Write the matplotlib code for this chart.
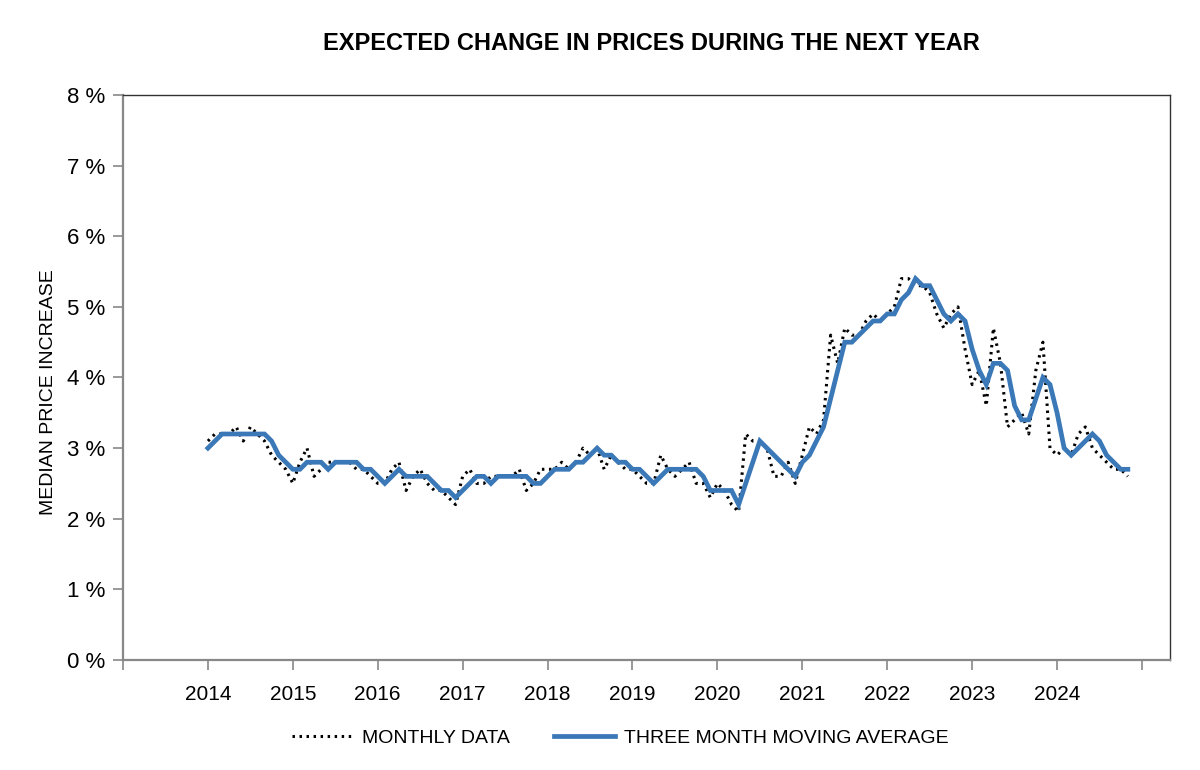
import matplotlib
matplotlib.use("Agg")
import matplotlib.pyplot as plt

plt.rcParams['font.family'] = ['Liberation Sans', 'DejaVu Sans']

# Monthly data, Jan 2014 .. Nov 2024 (percent)
monthly_2014 = [3.1, 3.2, 3.2, 3.2, 3.3, 3.1, 3.3, 3.2, 3.1, 2.9, 2.8, 2.7]
monthly_2015 = [2.5, 2.8, 3.0, 2.6, 2.7, 2.8, 2.8, 2.8, 2.8, 2.7, 2.7, 2.6]
monthly_2016 = [2.5, 2.5, 2.7, 2.8, 2.4, 2.6, 2.7, 2.5, 2.4, 2.4, 2.3, 2.2]
monthly_2017 = [2.6, 2.7, 2.5, 2.5, 2.6, 2.6, 2.6, 2.6, 2.7, 2.4, 2.5, 2.7]
monthly_2018 = [2.7, 2.7, 2.8, 2.7, 2.8, 3.0, 2.9, 3.0, 2.7, 2.9, 2.8, 2.7]
monthly_2019 = [2.7, 2.6, 2.5, 2.5, 2.9, 2.7, 2.6, 2.7, 2.8, 2.5, 2.5, 2.3]
monthly_2020 = [2.5, 2.4, 2.2, 2.1, 3.2, 3.1, 3.1, 3.0, 2.6, 2.6, 2.8, 2.5]
monthly_2021 = [2.9, 3.3, 3.2, 3.4, 4.6, 4.2, 4.7, 4.6, 4.6, 4.8, 4.9, 4.8]
monthly_2022 = [4.9, 5.0, 5.4, 5.4, 5.3, 5.3, 5.2, 4.9, 4.7, 4.9, 5.0, 4.4]
monthly_2023 = [3.9, 4.1, 3.6, 4.7, 4.2, 3.3, 3.4, 3.5, 3.2, 4.1, 4.5, 3.0]
monthly_2024 = [2.9, 3.0, 2.9, 3.2, 3.3, 3.0, 2.9, 2.8, 2.7, 2.7, 2.6]

# Three month moving average as plotted
ma_2014 = [3.0, 3.1, 3.2, 3.2, 3.2, 3.2, 3.2, 3.2, 3.2, 3.1, 2.9, 2.8]
ma_2015 = [2.7, 2.7, 2.8, 2.8, 2.8, 2.7, 2.8, 2.8, 2.8, 2.8, 2.7, 2.7]
ma_2016 = [2.6, 2.5, 2.6, 2.7, 2.6, 2.6, 2.6, 2.6, 2.5, 2.4, 2.4, 2.3]
ma_2017 = [2.4, 2.5, 2.6, 2.6, 2.5, 2.6, 2.6, 2.6, 2.6, 2.6, 2.5, 2.5]
ma_2018 = [2.6, 2.7, 2.7, 2.7, 2.8, 2.8, 2.9, 3.0, 2.9, 2.9, 2.8, 2.8]
ma_2019 = [2.7, 2.7, 2.6, 2.5, 2.6, 2.7, 2.7, 2.7, 2.7, 2.7, 2.6, 2.4]
ma_2020 = [2.4, 2.4, 2.4, 2.2, 2.5, 2.8, 3.1, 3.0, 2.9, 2.8, 2.7, 2.6]
ma_2021 = [2.8, 2.9, 3.1, 3.3, 3.7, 4.1, 4.5, 4.5, 4.6, 4.7, 4.8, 4.8]
ma_2022 = [4.9, 4.9, 5.1, 5.2, 5.4, 5.3, 5.3, 5.1, 4.9, 4.8, 4.9, 4.8]
ma_2023 = [4.4, 4.1, 3.9, 4.2, 4.2, 4.1, 3.6, 3.4, 3.4, 3.7, 4.0, 3.9]
ma_2024 = [3.5, 3.0, 2.9, 3.0, 3.1, 3.2, 3.1, 2.9, 2.8, 2.7, 2.7]

years = list(range(2014, 2025))
start_year = 2014

monthly = (monthly_2014 + monthly_2015 + monthly_2016 + monthly_2017 + monthly_2018 +
           monthly_2019 + monthly_2020 + monthly_2021 + monthly_2022 + monthly_2023 + monthly_2024)
moving_avg = (ma_2014 + ma_2015 + ma_2016 + ma_2017 + ma_2018 + ma_2019 + ma_2020 +
              ma_2021 + ma_2022 + ma_2023 + ma_2024)
dates = [start_year + i / 12 for i in range(len(monthly))]

fig = plt.figure(figsize=(12, 7.7), dpi=100)
ax = fig.add_axes([0.1025, 0.1429, 0.8725, 0.7337])

ax.plot(dates, monthly, color='black', lw=2.2, linestyle=(0, (0.8, 1.5)),
        label='MONTHLY DATA', zorder=2)
ax.plot(dates, moving_avg, color='#3a78b8', lw=3.4, solid_joinstyle='miter',
        label='THREE MONTH MOVING AVERAGE', zorder=3)

ax.set_xlim(2013, 2025.33)
ax.set_ylim(0, 8)

ax.set_yticks(range(0, 9))
ax.set_yticklabels([f'{v} %' for v in range(0, 9)], fontsize=16)
xt = list(range(2013, 2026))
ax.set_xticks(xt)
ax.set_xticklabels(['' if (t < years[0] or t > years[-1]) else str(t) for t in xt], fontsize=15)

ax.tick_params(axis='both', direction='out', length=7, width=1.2, color='#888888')
ax.tick_params(axis='x', pad=11)
ax.tick_params(axis='y', pad=6)

for s in ['left', 'bottom']:
    ax.spines[s].set_color('#888888')
    ax.spines[s].set_linewidth(1.6)
for s in ['top', 'right']:
    ax.spines[s].set_color('#333333')
    ax.spines[s].set_linewidth(1.0)

ax.set_ylabel('MEDIAN PRICE INCREASE', fontsize=14)
ax.yaxis.set_label_coords(-0.063, 0.474)
fig.text(0.5425, 0.943, 'EXPECTED CHANGE IN PRICES DURING THE NEXT YEAR',
         ha='center', va='center', fontsize=17, fontweight='bold')

fig.legend(loc='center', bbox_to_anchor=(0.517, 0.0416), ncol=2, frameon=False,
           fontsize=14, handlelength=3.1, handletextpad=0.5, columnspacing=2.3)

fig.savefig('out.png', dpi=100)
